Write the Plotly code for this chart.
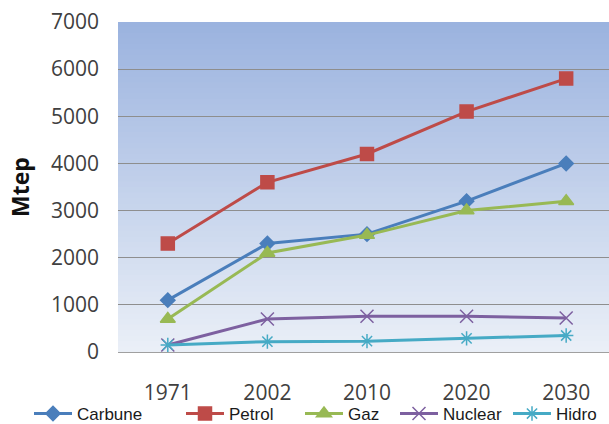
import plotly.graph_objects as go

# Energy demand by source (Mtep)
years = ["1971", "2002", "2010", "2020", "2030"]
carbune = [1100, 2300, 2500, 3200, 4000]
petrol = [2300, 3600, 4200, 5100, 5800]
gaz = [700, 2100, 2480, 3000, 3200]
nuclear = [150, 700, 760, 760, 720]
hidro = [150, 220, 230, 290, 350]

series = [
    ("Carbune", carbune, "#4A7EBB", "diamond", 11),
    ("Petrol", petrol, "#BE4B48", "square", 13),
    ("Gaz", gaz, "#98B954", "triangle-up", 13),
    ("Nuclear", nuclear, "#7D60A0", "x-thin", 13),
    ("Hidro", hidro, "#46AAC5", "asterisk", 12),
]

W, H = 609, 424
L, R, T, B = 118, 0, 22, 72
pw = W - L - R

# legend entry left edges in pixels
legend_px = [29, 181, 300, 395, 508]

fig = go.Figure()
for i, (name, vals, col, sym, sz) in enumerate(series):
    lg = "legend" if i == 0 else f"legend{i + 1}"
    fig.add_trace(go.Scatter(
        x=years, y=vals, name=name, mode="lines+markers",
        line=dict(color=col, width=3),
        marker=dict(symbol=sym, size=sz, color=col,
                    line=dict(color=col, width=1.5)),
        legend=lg,
    ))

# vertical gradient background of the plot area: each band reaches the top
# edge and is painted bottom-first, so neighbouring bands never leave seams
top = (155, 179, 223)
bot = (234, 239, 247)
n = 60
shapes = []
for k in range(n - 1, -1, -1):
    t = k / (n - 1)
    c = tuple(round(top[j] + (bot[j] - top[j]) * t) for j in range(3))
    shapes.append(dict(
        type="rect", xref="paper", yref="paper", layer="below",
        x0=0, x1=1, y0=1 - (k + 1) / n, y1=1,
        fillcolor="rgb(%d,%d,%d)" % c, line=dict(width=0),
    ))

layout = dict(
    width=W, height=H,
    margin=dict(l=L, r=R, t=T, b=B, autoexpand=False),
    paper_bgcolor="white",
    plot_bgcolor="rgba(0,0,0,0)",
    shapes=shapes,
    font=dict(family="Liberation Sans, Arial, sans-serif", color="#404040"),
    xaxis=dict(
        type="category", range=[-0.5, 4.43],
        showgrid=False, showline=False, zeroline=False,
        ticks="", tickfont=dict(size=21, family="Open Sans, sans-serif", color="#404040"),
        ticklabelstandoff=26,
    ),
    yaxis=dict(
        range=[0, 7000], dtick=1000, tickformat="d",
        showgrid=True, gridcolor="#8E8E8E", gridwidth=1,
        zeroline=True, zerolinecolor="#A0A0A0", zerolinewidth=1,
        showline=False, ticks="",
        tickfont=dict(size=21, family="Open Sans, sans-serif", color="#404040"),
        ticklabelstandoff=18,
        title=dict(text="<b>Mtep</b>", standoff=14,
                   font=dict(size=23, family="Open Sans, sans-serif", color="#111111")),
    ),
    showlegend=True,
)

for i, px in enumerate(legend_px):
    key = "legend" if i == 0 else f"legend{i + 1}"
    layout[key] = dict(
        x=(px - L) / pw, xanchor="left",
        yref="container", y=(H - 414) / H, yanchor="middle",
        orientation="h", bgcolor="rgba(0,0,0,0)",
        font=dict(size=17, family="Liberation Sans, Arial, sans-serif", color="#1a1a1a"),
        itemwidth=38,
    )

fig.update_layout(**layout)
fig.write_html("out.html")
